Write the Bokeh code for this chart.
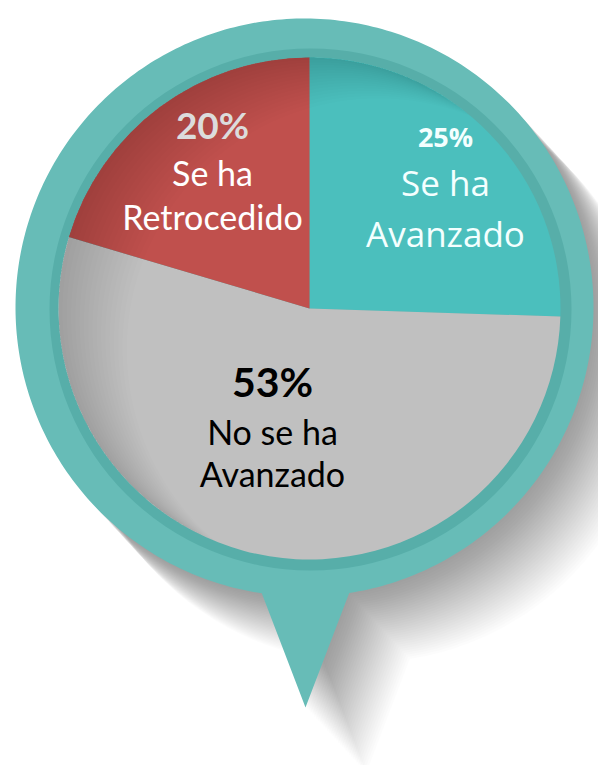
import numpy as np
from bokeh.plotting import figure
from bokeh.models import Range1d
from bokeh.core.properties import value
from bokeh.embed import file_html
from bokeh.resources import INLINE

# ---------------- data ----------------
categories = ["Se ha Avanzado", "No se ha Avanzado", "Se ha Retrocedido"]
values = [25, 53, 20]
pct_labels = ["25%", "53%", "20%"]
name_line1 = ["Se ha", "No se ha", "Se ha"]
name_line2 = ["Avanzado", "Avanzado", "Retrocedido"]

# ---------------- style / layout ----------------
slice_colors = ["#4BBFBD", "#C0C0C0", "#C0504D"]
pct_colors = ["#F4FFFF", "#000000", "#DCDCDC"]
name_colors = ["#F4FFFF", "#000000", "#FFFFFF"]
pct_fonts = ["Open Sans", "Lato", "Lato"]
name_fonts = ["Open Sans", "Lato", "Lato"]
pct_px = [27, 41, 37]
name_px = [35, 34, 34]
# label anchor (reference pixel coordinates): center x, baselines of the 3 lines
lab_x = [445, 272, 212]
lab_b0 = [147, 397, 139]
lab_b1 = [196, 445, 186]
lab_b2 = [247, 487, 230]
BASE_FIX = 0.4  # renderer draws alphabetic baseline lower by ~0.4 em

W, H = 598, 765


def Y(y):
    return H - y


RING_C = (304, 307)
RING_R = 289
INNER_C = (310, 309)
INNER_R = 261
PIE_C = (309, 308)
PIE_R = 251
TRI_L = (262, 588)
TRI_R = (348, 588)
TRI_TIP = (305, 707)

p = figure(width=W, height=H, output_backend="svg", toolbar_location=None,
           x_range=Range1d(0, W), y_range=Range1d(0, H), min_border=0,
           background_fill_color="white", border_fill_color="white")
p.axis.visible = False
p.grid.visible = False
p.outline_line_color = None

# ---------------- pin outline polygon ----------------
cx, cy = RING_C[0], Y(RING_C[1])
a_r = np.arctan2(Y(TRI_R[1]) - cy, TRI_R[0] - cx)
a_l = np.arctan2(Y(TRI_L[1]) - cy, TRI_L[0] - cx) + 2 * np.pi
th = np.linspace(a_r, a_l, 360)
pin_x = np.array(list(cx + RING_R * np.cos(th)) + [TRI_TIP[0]])
pin_y = np.array(list(cy + RING_R * np.sin(th)) + [Y(TRI_TIP[1])])

# long soft shadow toward lower right
offs = np.arange(2, 68, 2)
p.patches(xs=[list(pin_x + 0.92 * t) for t in offs],
          ys=[list(pin_y - t) for t in offs],
          fill_color="black", fill_alpha=0.0105, line_color=None)

# pin body
p.patch(pin_x, pin_y, fill_color="#67BCB7", line_color=None)

# inner darker ring
p.circle(x=INNER_C[0], y=Y(INNER_C[1]), radius=INNER_R,
         fill_color="#57AEA9", line_color=None)

# ---------------- pie ----------------
vals = np.array(values, dtype=float)
frac = vals / vals.sum()
cum = np.concatenate([[0.0], np.cumsum(frac)])
start = list(np.pi / 2 - cum[1:] * 2 * np.pi)
end = list(np.pi / 2 - cum[:-1] * 2 * np.pi)
p.wedge(x=PIE_C[0], y=Y(PIE_C[1]), radius=PIE_R, start_angle=start,
        end_angle=end, fill_color=slice_colors, line_color=None)

# inner shading on the upper-left side (stacked crescents)
pcx, pcy = PIE_C[0], Y(PIE_C[1])
u = np.array([1.0, -0.6])
u = u / np.linalg.norm(u)
v = np.array([-u[1], u[0]])
cres_x, cres_y = [], []
for d in np.arange(5, 85, 5):
    t0 = np.arccos(d / (2 * PIE_R))
    a1 = np.linspace(t0, 2 * np.pi - t0, 200)
    b1 = np.linspace(np.pi + t0, np.pi - t0, 200)
    lx = np.concatenate([PIE_R * np.cos(a1), d + PIE_R * np.cos(b1)])
    ly = np.concatenate([PIE_R * np.sin(a1), PIE_R * np.sin(b1)])
    cres_x.append(list(pcx + lx * u[0] + ly * v[0]))
    cres_y.append(list(pcy + lx * u[1] + ly * v[1]))
p.patches(xs=cres_x, ys=cres_y, fill_color="black", fill_alpha=0.009,
          line_color=None)

# ---------------- labels ----------------
for i in range(len(values)):
    p.text(x=[lab_x[i]], y=[Y(lab_b0[i] - BASE_FIX * pct_px[i])],
           text=[pct_labels[i]],
           text_font=value(pct_fonts[i]), text_font_style="bold",
           text_font_size=f"{pct_px[i]}px", text_color=pct_colors[i],
           text_align="center", text_baseline="alphabetic")
    p.text(x=[lab_x[i]], y=[Y(lab_b1[i] - BASE_FIX * name_px[i])],
           text=[name_line1[i]],
           text_font=value(name_fonts[i]), text_font_size=f"{name_px[i]}px",
           text_color=name_colors[i], text_align="center",
           text_baseline="alphabetic")
    p.text(x=[lab_x[i]], y=[Y(lab_b2[i] - BASE_FIX * name_px[i])],
           text=[name_line2[i]],
           text_font=value(name_fonts[i]), text_font_size=f"{name_px[i]}px",
           text_color=name_colors[i], text_align="center",
           text_baseline="alphabetic")

open("out.html", "w").write(file_html(p, INLINE))
